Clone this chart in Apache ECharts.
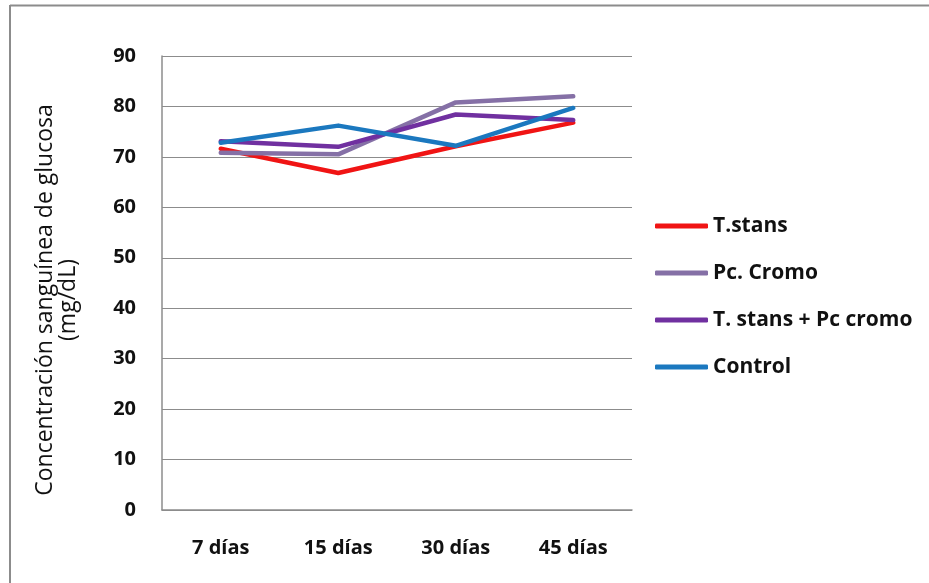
<!DOCTYPE html>
<html>
<head>
<meta charset="utf-8">
<script src="https://cdn.jsdelivr.net/npm/echarts@6/dist/echarts.min.js"></script>
<style>
  html, body { margin: 0; padding: 0; background: #fff; }
  #chart { width: 929px; height: 583px; }
</style>
</head>
<body>
<div id="chart"></div>
<script>
// Blood glucose (mg/dL) over the treatment period
const categories = ['7 días', '15 días', '30 días', '45 días'];
const tStans      = [71.6, 66.8, 72.1, 76.8];
const pcCromo     = [70.8, 70.5, 80.8, 82.0];
const tStansCromo = [73.1, 72.0, 78.4, 77.3];
const control     = [72.8, 76.2, 72.2, 79.7];
const yTicks = [0, 10, 20, 30, 40, 50, 60, 70, 80, 90];

const FONT = '"Open Sans", Lato, sans-serif';

const chart = echarts.init(document.getElementById('chart'));

function line(name, data, color) {
  return {
    name, type: 'line', data,
    symbol: 'none',
    lineStyle: { color, width: 4.5, cap: 'round', join: 'round' },
    itemStyle: { color },
    emphasis: { disabled: true }
  };
}

chart.setOption({
  animation: false,
  backgroundColor: '#ffffff',
  grid: { left: 162, right: 297, top: 56, bottom: 73, containLabel: false },
  xAxis: {
    type: 'category',
    data: categories,
    boundaryGap: true,
    axisLine: { lineStyle: { color: '#8c8c8c', width: 1.5 } },
    axisTick: { show: false },
    axisLabel: { color: '#111', fontFamily: FONT, fontWeight: 'bold', fontSize: 20, margin: 28 }
  },
  yAxis: {
    type: 'value',
    min: yTicks[0], max: yTicks[yTicks.length - 1], interval: 10,
    axisLine: { show: true, lineStyle: { color: '#8c8c8c', width: 1.5 } },
    axisTick: { show: false },
    splitLine: { lineStyle: { color: '#8c8c8c', width: 1 } },
    axisLabel: { color: '#111', fontFamily: FONT, fontWeight: 'bold', fontSize: 20, margin: 26 }
  },
  legend: {
    orient: 'vertical',
    left: 650, top: 209,
    itemWidth: 53, itemHeight: 5,
    itemGap: 23,
    icon: 'roundRect',
    textStyle: { color: '#111', fontFamily: FONT, fontWeight: 'bold', fontSize: 21, lineHeight: 24 },
    data: ['T.stans', 'Pc. Cromo', 'T. stans + Pc cromo', 'Control']
  },
  graphic: [
    { type: 'line', shape: { x1: 10, y1: 5.5, x2: 929, y2: 5.5 }, style: { stroke: '#8c8c8c', lineWidth: 2 } },
    { type: 'line', shape: { x1: 10, y1: 5, x2: 10, y2: 583 }, style: { stroke: '#8c8c8c', lineWidth: 2 } },
    {
      type: 'text', x: 57, y: 300, rotation: Math.PI / 2,
      style: {
        text: 'Concentración sanguínea de glucosa\n(mg/dL)',
        fill: '#111', font: '23px ' + FONT, align: 'center', verticalAlign: 'middle',
        lineHeight: 23
      }
    }
  ],
  series: [
    line('T.stans', tStans, '#f01414'),
    line('Pc. Cromo', pcCromo, '#8570a6'),
    line('T. stans + Pc cromo', tStansCromo, '#7030a0'),
    line('Control', control, '#1b78bf')
  ]
});
</script>
</body>
</html>
